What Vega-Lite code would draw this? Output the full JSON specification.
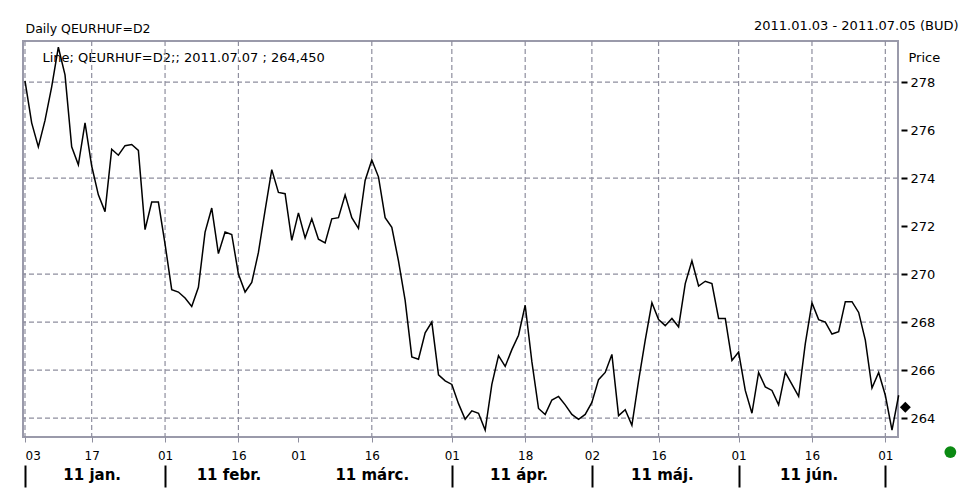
{
  "$schema": "https://vega.github.io/schema/vega-lite/v6.json",
  "width": 875,
  "height": 396,
  "autosize": {"type": "none"},
  "padding": {"left": 23, "top": 41, "right": 63, "bottom": 54},
  "background": "white",
  "config": {"view": {"stroke": "#9a9aaa", "strokeWidth": 2}, "font": "DejaVu Sans"},
  "datasets": {
    "prices": [
      {"i":0,"date":"2011-01-03","price":278.05},{"i":1,"date":"2011-01-04","price":276.3},{"i":2,"date":"2011-01-05","price":275.3},{"i":3,"date":"2011-01-06","price":276.4},{"i":4,"date":"2011-01-07","price":277.8},
      {"i":5,"date":"2011-01-10","price":279.45},{"i":6,"date":"2011-01-11","price":278.3},{"i":7,"date":"2011-01-12","price":275.3},{"i":8,"date":"2011-01-13","price":274.55},{"i":9,"date":"2011-01-14","price":276.3},
      {"i":10,"date":"2011-01-17","price":274.5},{"i":11,"date":"2011-01-18","price":273.3},{"i":12,"date":"2011-01-19","price":272.6},{"i":13,"date":"2011-01-20","price":275.2},{"i":14,"date":"2011-01-21","price":274.95},
      {"i":15,"date":"2011-01-24","price":275.35},{"i":16,"date":"2011-01-25","price":275.4},{"i":17,"date":"2011-01-26","price":275.15},{"i":18,"date":"2011-01-27","price":271.85},{"i":19,"date":"2011-01-28","price":273.0},
      {"i":20,"date":"2011-01-31","price":273.0},{"i":21,"date":"2011-02-01","price":271.25},{"i":22,"date":"2011-02-02","price":269.35},{"i":23,"date":"2011-02-03","price":269.25},{"i":24,"date":"2011-02-04","price":269.0},
      {"i":25,"date":"2011-02-07","price":268.65},{"i":26,"date":"2011-02-08","price":269.45},{"i":27,"date":"2011-02-09","price":271.75},{"i":28,"date":"2011-02-10","price":272.75},{"i":29,"date":"2011-02-11","price":270.85},
      {"i":30,"date":"2011-02-14","price":271.75},{"i":31,"date":"2011-02-15","price":271.65},{"i":32,"date":"2011-02-16","price":270.0},{"i":33,"date":"2011-02-17","price":269.25},{"i":34,"date":"2011-02-18","price":269.65},
      {"i":35,"date":"2011-02-21","price":270.9},{"i":36,"date":"2011-02-22","price":272.65},{"i":37,"date":"2011-02-23","price":274.35},{"i":38,"date":"2011-02-24","price":273.4},{"i":39,"date":"2011-02-25","price":273.35},
      {"i":40,"date":"2011-02-28","price":271.4},{"i":41,"date":"2011-03-01","price":272.55},{"i":42,"date":"2011-03-02","price":271.5},{"i":43,"date":"2011-03-03","price":272.3},{"i":44,"date":"2011-03-04","price":271.45},
      {"i":45,"date":"2011-03-07","price":271.3},{"i":46,"date":"2011-03-08","price":272.3},{"i":47,"date":"2011-03-09","price":272.35},{"i":48,"date":"2011-03-10","price":273.3},{"i":49,"date":"2011-03-11","price":272.35},
      {"i":50,"date":"2011-03-14","price":271.9},{"i":51,"date":"2011-03-15","price":273.9},{"i":52,"date":"2011-03-16","price":274.75},{"i":53,"date":"2011-03-17","price":274.05},{"i":54,"date":"2011-03-18","price":272.35},
      {"i":55,"date":"2011-03-21","price":271.95},{"i":56,"date":"2011-03-22","price":270.55},{"i":57,"date":"2011-03-23","price":268.9},{"i":58,"date":"2011-03-24","price":266.55},{"i":59,"date":"2011-03-25","price":266.45},
      {"i":60,"date":"2011-03-28","price":267.55},{"i":61,"date":"2011-03-29","price":268.0},{"i":62,"date":"2011-03-30","price":265.8},{"i":63,"date":"2011-03-31","price":265.55},{"i":64,"date":"2011-04-01","price":265.4},
      {"i":65,"date":"2011-04-04","price":264.6},{"i":66,"date":"2011-04-05","price":263.95},{"i":67,"date":"2011-04-06","price":264.3},{"i":68,"date":"2011-04-07","price":264.2},{"i":69,"date":"2011-04-08","price":263.5},
      {"i":70,"date":"2011-04-11","price":265.4},{"i":71,"date":"2011-04-12","price":266.6},{"i":72,"date":"2011-04-13","price":266.15},{"i":73,"date":"2011-04-14","price":266.85},{"i":74,"date":"2011-04-15","price":267.45},
      {"i":75,"date":"2011-04-18","price":268.7},{"i":76,"date":"2011-04-19","price":266.35},{"i":77,"date":"2011-04-20","price":264.4},{"i":78,"date":"2011-04-21","price":264.15},{"i":79,"date":"2011-04-22","price":264.75},
      {"i":80,"date":"2011-04-25","price":264.9},{"i":81,"date":"2011-04-26","price":264.55},{"i":82,"date":"2011-04-27","price":264.15},{"i":83,"date":"2011-04-28","price":263.95},{"i":84,"date":"2011-04-29","price":264.15},
      {"i":85,"date":"2011-05-02","price":264.65},{"i":86,"date":"2011-05-03","price":265.6},{"i":87,"date":"2011-05-04","price":265.9},{"i":88,"date":"2011-05-05","price":266.65},{"i":89,"date":"2011-05-06","price":264.1},
      {"i":90,"date":"2011-05-09","price":264.35},{"i":91,"date":"2011-05-10","price":263.7},{"i":92,"date":"2011-05-11","price":265.55},{"i":93,"date":"2011-05-12","price":267.25},{"i":94,"date":"2011-05-13","price":268.8},
      {"i":95,"date":"2011-05-16","price":268.1},{"i":96,"date":"2011-05-17","price":267.85},{"i":97,"date":"2011-05-18","price":268.15},{"i":98,"date":"2011-05-19","price":267.8},{"i":99,"date":"2011-05-20","price":269.6},
      {"i":100,"date":"2011-05-23","price":270.55},{"i":101,"date":"2011-05-24","price":269.5},{"i":102,"date":"2011-05-25","price":269.7},{"i":103,"date":"2011-05-26","price":269.6},{"i":104,"date":"2011-05-27","price":268.15},
      {"i":105,"date":"2011-05-30","price":268.15},{"i":106,"date":"2011-05-31","price":266.4},{"i":107,"date":"2011-06-01","price":266.75},{"i":108,"date":"2011-06-02","price":265.15},{"i":109,"date":"2011-06-03","price":264.2},
      {"i":110,"date":"2011-06-06","price":265.9},{"i":111,"date":"2011-06-07","price":265.3},{"i":112,"date":"2011-06-08","price":265.15},{"i":113,"date":"2011-06-09","price":264.55},{"i":114,"date":"2011-06-10","price":265.9},
      {"i":115,"date":"2011-06-13","price":265.4},{"i":116,"date":"2011-06-14","price":264.9},{"i":117,"date":"2011-06-15","price":267.1},{"i":118,"date":"2011-06-16","price":268.8},{"i":119,"date":"2011-06-17","price":268.1},
      {"i":120,"date":"2011-06-20","price":268.0},{"i":121,"date":"2011-06-21","price":267.5},{"i":122,"date":"2011-06-22","price":267.6},{"i":123,"date":"2011-06-23","price":268.85},{"i":124,"date":"2011-06-24","price":268.85},
      {"i":125,"date":"2011-06-27","price":268.4},{"i":126,"date":"2011-06-28","price":267.25},{"i":127,"date":"2011-06-29","price":265.25},{"i":128,"date":"2011-06-30","price":265.9},{"i":129,"date":"2011-07-01","price":264.95},
      {"i":130,"date":"2011-07-04","price":263.5},{"i":131,"date":"2011-07-05","price":264.95}
    ],
    "xgrid": [{"i":0},{"i":10},{"i":21},{"i":32},{"i":52},{"i":64},{"i":75},{"i":85},{"i":95},{"i":107},{"i":118},{"i":129}],
    "ygrid": [{"p":264},{"p":266},{"p":268},{"p":270},{"p":274},{"p":278}],
    "months": [{"i":10,"label":"11 jan."},{"i":30.5,"label":"11 febr."},{"i":52,"label":"11 márc."},{"i":74,"label":"11 ápr."},{"i":95.5,"label":"11 máj."},{"i":117.5,"label":"11 jún."}],
    "bounds": [{"i":0},{"i":21},{"i":64},{"i":85},{"i":107},{"i":129}],
    "last": [{"i":132,"price":264.45}],
    "status": [{"i":138.75,"price":262.58}]
  },
  "layer": [
    {
      "data": {"name": "xgrid"},
      "mark": {"type": "rule", "stroke": "#8e8e9e", "strokeDash": [5, 3], "strokeWidth": 1.2},
      "encoding": {
        "x": {"field": "i", "type": "quantitative",
          "scale": {"domain": [-0.3, 130.9], "nice": false, "zero": false},
          "axis": {"orient": "top", "domain": false, "ticks": false, "labels": false, "grid": false,
            "title": "2011.01.03 - 2011.07.05 (BUD)", "titleX": 935, "titleY": -12,
            "titleAlign": "right", "titleBaseline": "alphabetic", "titleFontSize": 13,
            "titleFontWeight": "normal", "titleColor": "black", "titleFont": "DejaVu Sans"}}
      }
    },
    {
      "data": {"name": "ygrid"},
      "mark": {"type": "rule", "stroke": "#8e8e9e", "strokeDash": [5, 3], "strokeWidth": 1.2},
      "encoding": {
        "y": {"field": "p", "type": "quantitative",
          "scale": {"domain": [263.21, 279.71], "nice": false, "zero": false},
          "axis": {"orient": "left", "domain": false, "ticks": false, "labels": false, "grid": false,
            "title": "Line; QEURHUF=D2;; 2011.07.07 ; 264,450", "titleAngle": 0, "titleX": 19, "titleY": 16,
            "titleAlign": "left", "titleBaseline": "middle", "titleFontSize": 13,
            "titleFontWeight": "normal", "titleColor": "black", "titleFont": "DejaVu Sans"}}
      }
    },
    {
      "data": {"name": "months"},
      "mark": {"type": "rule", "strokeOpacity": 0},
      "encoding": {
        "x": {"field": "i", "type": "quantitative",
          "axis": {"orient": "bottom", "domain": false, "ticks": false, "grid": false, "title": null,
            "values": [10, 30.5, 52, 74, 95.5, 117.5],
            "labelExpr": "datum.value==10?'11 jan.':datum.value==30.5?'11 febr.':datum.value==52?'11 márc.':datum.value==74?'11 ápr.':datum.value==95.5?'11 máj.':'11 jún.'",
            "labelPadding": 42, "labelBaseline": "alphabetic", "labelFontSize": 15, "labelFontWeight": "bold",
            "labelColor": "black", "labelFont": "DejaVu Sans", "labelFlush": false, "labelOverlap": false}}
      }
    },
    {
      "data": {"name": "bounds"},
      "mark": {"type": "rule", "strokeOpacity": 0},
      "encoding": {
        "x": {"field": "i", "type": "quantitative",
          "axis": {"orient": "bottom", "offset": 28, "domain": false, "labels": false, "grid": false, "title": null,
            "values": [0, 21, 64, 85, 107, 129], "ticks": true, "tickSize": 22, "tickWidth": 2, "tickColor": "black"}}
      }
    },
    {
      "data": {"name": "prices"},
      "mark": {"type": "line", "color": "black", "strokeWidth": 1.5},
      "encoding": {
        "x": {"field": "i", "type": "quantitative",
          "axis": {"orient": "bottom", "domain": false, "grid": false, "title": null,
            "values": [0, 10, 21, 32, 41, 52, 64, 75, 85, 95, 107, 118, 129],
            "labelExpr": "datum.value==0?'03':datum.value==10?'17':datum.value==75?'18':datum.value==85?'02':(indexof([32,52,95,118],datum.value)>=0?'16':'01')",
            "tickSize": 5, "tickColor": "#8e8e9e", "labelPadding": 17, "labelBaseline": "alphabetic",
            "labelFontSize": 12, "labelColor": "black", "labelFont": "DejaVu Sans", "labelFlush": 5, "labelOverlap": false}},
        "y": {"field": "price", "type": "quantitative",
          "axis": {"orient": "right", "offset": 3, "domain": false, "grid": false,
            "values": [264, 266, 268, 270, 272, 274, 276, 278],
            "tickSize": 6, "tickWidth": 2, "tickColor": "black", "labelPadding": 3,
            "labelFontSize": 13, "labelColor": "black", "labelFont": "DejaVu Sans", "labelBaseline": "middle",
            "labelFlush": false, "labelOverlap": false,
            "title": "Price", "titleAngle": 0, "titleX": 7, "titleY": 16, "titleAlign": "left", "titleBaseline": "middle",
            "titleFontSize": 13, "titleFontWeight": "normal", "titleColor": "black", "titleFont": "DejaVu Sans"}}
      }
    },
    {
      "data": {"name": "last"},
      "mark": {"type": "point", "shape": "diamond", "filled": true, "color": "black", "size": 120, "opacity": 1},
      "encoding": {
        "x": {"field": "i", "type": "quantitative", "axis": null},
        "y": {"field": "price", "type": "quantitative", "axis": null}
      }
    },
    {
      "data": {"name": "status"},
      "mark": {"type": "circle", "color": "#0b8a12", "size": 140, "opacity": 1},
      "encoding": {
        "x": {"field": "i", "type": "quantitative",
          "axis": {"orient": "top", "domain": false, "ticks": false, "labels": false, "grid": false,
            "title": "Daily QEURHUF=D2", "titleX": 2, "titleY": -9,
            "titleAlign": "left", "titleBaseline": "alphabetic", "titleFontSize": 12.5,
            "titleFontWeight": "normal", "titleColor": "black", "titleFont": "DejaVu Sans"}},
        "y": {"field": "price", "type": "quantitative", "axis": null}
      }
    }
  ],
  "resolve": {"axis": {"x": "independent", "y": "independent"}}
}
